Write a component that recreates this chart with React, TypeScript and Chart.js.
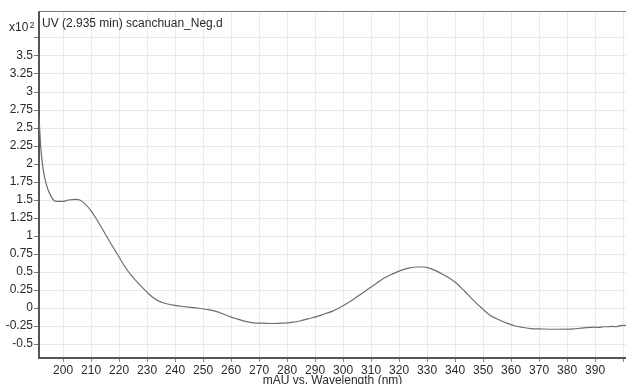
import React, { useEffect, useRef } from "react";
import { Chart, registerables } from "chart.js";

Chart.register(...registerables);

const chartTitle = "UV (2.935 min) scanchuan_Neg.d";
const xAxisTitle = "mAU vs. Wavelength (nm)";
const yMultiplier = "x10";
const yExponent = "2";

const wavelengths = [
  191.4, 192.1, 192.8, 193.9, 195.7, 197.5, 200, 202, 204.5, 206, 208, 210, 212, 214.3, 217, 219.2,
  222, 224, 226, 228.7, 231, 233.5, 236, 239.4, 242, 245.4, 248, 251.3, 254.9, 257, 259.6, 262,
  265.6, 268, 271.5, 275, 278.7, 281.5, 284.6, 287.5, 290.6, 293.5, 296.5, 299.5, 302.5, 305.5,
  308.5, 311.5, 314.4, 317.5, 320.4, 323.5, 326.3, 329, 331.1, 333, 336, 338.2, 340.6, 343.5,
  346.5, 349.5, 352.5, 355.5, 358.5, 361.5, 364.4, 367, 370.4, 376, 382.3, 385, 388.2, 390, 391.5,
  393, 394.2, 396, 397.5, 399, 401,
];
const absorbance = [
  2.65, 2.2, 1.95, 1.73, 1.55, 1.48, 1.48, 1.5, 1.51, 1.5, 1.44, 1.35, 1.23, 1.08, 0.9, 0.76,
  0.58, 0.47, 0.38, 0.27, 0.18, 0.11, 0.07, 0.04, 0.025, 0.01, 0.0, -0.02, -0.05, -0.08, -0.12, -0.15,
  -0.19, -0.205, -0.21, -0.215, -0.21, -0.2, -0.18, -0.15, -0.12, -0.08, -0.04, 0.02, 0.09, 0.17,
  0.25, 0.33, 0.41, 0.47, 0.52, 0.555, 0.57, 0.57, 0.55, 0.52, 0.46, 0.41, 0.34, 0.23,
  0.11, 0.0, -0.1, -0.16, -0.21, -0.25, -0.27, -0.285, -0.29, -0.295, -0.29, -0.28, -0.27, -0.265, -0.27,
  -0.26, -0.26, -0.255, -0.26, -0.245, -0.24,
];

const xTickValues = [200, 210, 220, 230, 240, 250, 260, 270, 280, 290, 300, 310, 320, 330, 340, 350, 360, 370, 380, 390, 400];
const xLabelledMax = 390;
const yTickValues = [-0.5, -0.25, 0, 0.25, 0.5, 0.75, 1, 1.25, 1.5, 1.75, 2, 2.25, 2.5, 2.75, 3, 3.25, 3.5, 3.75];
const yLabelledMax = 3.5;

const X_MIN = 191.4;
const X_MAX = 401.05;
const Y_MIN = -0.694;
const Y_MAX = 4.111;

const FONT = "'Liberation Sans Narrow', 'Arial Narrow', 'Liberation Sans', Arial, sans-serif";
const TEXT = "#2a2a2a";

const overlayPlugin = {
  id: "overlayText",
  afterDraw(chart: any) {
    const { ctx, chartArea } = chart;
    ctx.save();
    ctx.strokeStyle = "#777";
    ctx.lineWidth = 1;
    ctx.beginPath();
    ctx.moveTo(chartArea.left, chartArea.top - 0.5);
    ctx.lineTo(chartArea.right, chartArea.top - 0.5);
    ctx.stroke();
    ctx.fillStyle = TEXT;
    ctx.textBaseline = "alphabetic";
    ctx.textAlign = "left";
    ctx.font = `12px ${FONT}`;
    ctx.fillText(chartTitle, chartArea.left + 3, chartArea.top + 15);
    ctx.fillText(yMultiplier, 9, 31);
    ctx.font = `9px ${FONT}`;
    ctx.fillText(yExponent, 29.5, 28);
    ctx.restore();
  },
};

export default function App() {
  const canvasRef = useRef<HTMLCanvasElement | null>(null);

  useEffect(() => {
    if (!canvasRef.current) return;
    const points = wavelengths.map((w, i) => ({ x: w, y: absorbance[i] }));
    const chart = new Chart(canvasRef.current, {
      type: "line",
      data: {
        datasets: [
          {
            data: points,
            borderColor: "#6e6e6e",
            borderWidth: 1.2,
            pointRadius: 0,
            cubicInterpolationMode: "monotone",
            fill: false,
          },
        ],
      },
      plugins: [overlayPlugin],
      options: {
        animation: false,
        responsive: false,
        devicePixelRatio: 1,
        layout: { padding: { top: 12, left: 0, right: 0, bottom: 0 } },
        plugins: {
          legend: { display: false },
          tooltip: { enabled: false },
          title: { display: false },
        },
        scales: {
          x: {
            type: "linear",
            min: X_MIN,
            max: X_MAX,
            afterBuildTicks: (scale: any) => {
              scale.ticks = xTickValues.map((v) => ({ value: v }));
            },
            afterFit: (scale: any) => {
              scale.height = 34;
              scale.paddingLeft = 0;
              scale.paddingRight = 0;
            },
            ticks: {
              autoSkip: false,
              maxRotation: 0,
              padding: 1,
              color: TEXT,
              font: { family: FONT, size: 12 },
              callback: (v: any) => (Number(v) <= xLabelledMax ? String(v) : ""),
            },
            grid: { color: "#e9e9e9", lineWidth: 1, tickLength: 4, tickColor: "#888" },
            border: { color: "#555", width: 2 },
            title: {
              display: true,
              text: xAxisTitle,
              color: TEXT,
              font: { family: FONT, size: 12 },
              padding: { top: 0, bottom: 4 },
            },
          },
          y: {
            type: "linear",
            min: Y_MIN,
            max: Y_MAX,
            afterBuildTicks: (scale: any) => {
              scale.ticks = yTickValues.map((v) => ({ value: v }));
            },
            afterFit: (scale: any) => {
              scale.width = 39;
              scale.paddingTop = 0;
              scale.paddingBottom = 0;
            },
            ticks: {
              autoSkip: false,
              padding: 1,
              color: TEXT,
              font: { family: FONT, size: 12 },
              callback: (v: any) => (Number(v) <= yLabelledMax ? String(Number(Number(v).toFixed(2))) : ""),
            },
            grid: { color: "#e9e9e9", lineWidth: 1, tickLength: 5, tickColor: "#777" },
            border: { color: "#555", width: 2 },
          },
        },
      },
    });
    return () => chart.destroy();
  }, []);

  return (
    <div
      style={{
        position: "fixed",
        left: 0,
        top: 0,
        width: 626,
        height: 384,
        overflow: "hidden",
        background: "#fff",
      }}
    >
      <canvas ref={canvasRef} width={626} height={392} style={{ display: "block" }} />
    </div>
  );
}
